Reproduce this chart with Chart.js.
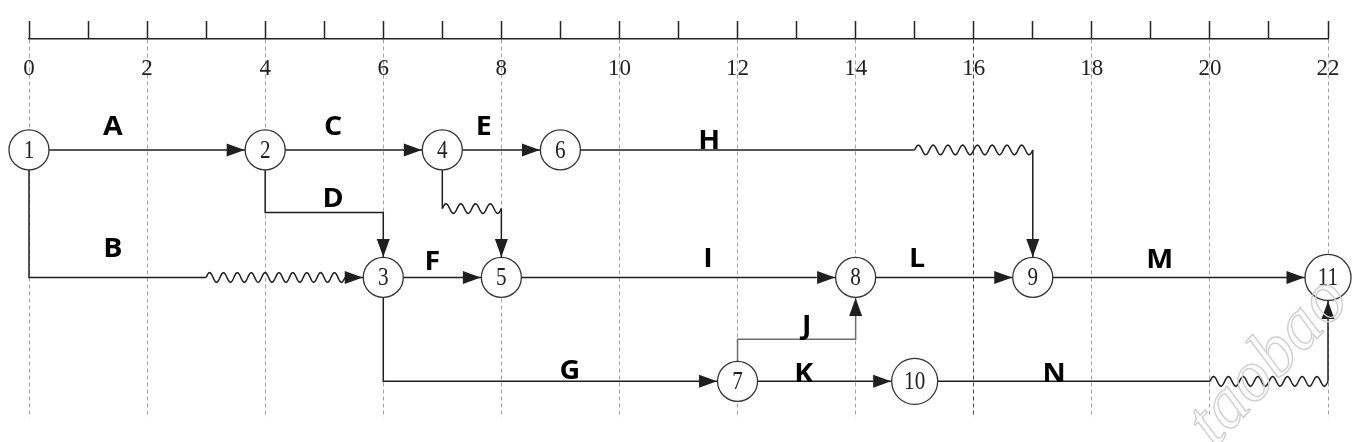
<!DOCTYPE html>
<html>
<head>
<meta charset="utf-8">
<script src="https://cdn.jsdelivr.net/npm/chart.js@4.4.1/dist/chart.umd.min.js"></script>
<style>
  html, body { margin: 0; padding: 0; background: #fff; }
</style>
</head>
<body>
<canvas id="network-chart" width="1362" height="442"></canvas>
<script>
// time ruler along the top
const timeMin = 0;
const timeMax = 22;
const tickLabels = ['0', '', '2', '', '4', '', '6', '', '8', '', '10', '', '12', '', '14', '', '16', '', '18', '', '20', '', '22'];

// events: number, time, lane (0 = top row, 1 = middle row, 1.815 = bottom row)
const nodeIds = [1, 2, 3, 4, 5, 6, 7, 8, 9, 10, 11];
const nodeTime = [0, 4, 6, 7, 8, 9, 12, 14, 17, 15, 22];
const nodeLane = [0, 0, 1, 0, 1, 0, 1.815, 1, 1, 1.815, 1];

// activities: route corners (time, lane), index of the wavy (free float) segment, label spot
const activityNames = ['A', 'B', 'C', 'D', 'E', 'F', 'G', 'H', 'I', 'J', 'K', 'L', 'M', 'N', ''];
const routeTime = [
  [0, 4], [0, 0, 3, 5.35, 6], [4, 7], [4, 4, 6, 6], [7, 9], [6, 8], [6, 6, 12], [9, 15, 17, 17],
  [8, 14], [12, 12, 14, 14], [12, 15], [14, 17], [17, 22], [15, 20, 22, 22], [7, 7, 8, 8],
];
const routeLane = [
  [0, 0], [0, 1, 1, 1, 1], [0, 0], [0, 0.49, 0.49, 1], [0, 0], [1, 1], [1, 1.815, 1.815], [0, 0, 0, 1],
  [1, 1], [1.815, 1.485, 1.485, 1], [1.815, 1.815], [1, 1], [1, 1], [1.815, 1.815, 1.815, 1], [0, 0.46, 0.46, 1],
];
const waveSegment = [-1, 2, -1, -1, -1, -1, -1, 1, -1, -1, -1, -1, -1, 1, 1];
const labelTime = [1.42, 1.42, 5.15, 5.15, 7.7, 6.83, 9.16, 11.52, 11.5, 13.17, 13.12, 15.04, 19.15, 17.36, 0];
const labelLane = [-0.185, 0.77, -0.185, 0.385, -0.185, 0.877, 1.73, -0.077, 0.854, 1.377, 1.754, 0.854, 0.862, 1.754, 0];

const INK = '#1f1f1f';
const nodeRadius = (i) => (String(nodeIds[i]).length > 1 ? 23 : 20);

const routeDatasets = activityNames.map((name, i) => {
  const pts = [];
  routeTime[i].forEach((t, k) => {
    pts.push({ x: t, y: routeLane[i][k] });
    if (k === waveSegment[i]) {
      // break the solid line where the wave is drawn
      pts.push({ x: (t + routeTime[i][k + 1]) / 2, y: null });
    }
  });
  return {
    label: name || 'dummy',
    data: pts,
    showLine: true,
    borderColor: name === 'J' ? '#6e6e6e' : INK,
    borderWidth: 1.5,
    pointRadius: 0,
    pointHoverRadius: 0,
    tension: 0,
    spanGaps: false,
    clip: false,
    order: 2,
  };
});

const nodeDataset = {
  label: 'events',
  data: nodeIds.map((id, i) => ({ x: nodeTime[i], y: nodeLane[i] })),
  pointRadius: nodeIds.map((id, i) => nodeRadius(i)),
  pointHoverRadius: nodeIds.map((id, i) => nodeRadius(i)),
  pointBackgroundColor: '#fff',
  pointBorderColor: '#333',
  pointBorderWidth: 1.3,
  clip: false,
  order: 0,
};

const findNode = (t, lane) => nodeIds.findIndex((id, i) => nodeTime[i] === t && nodeLane[i] === lane);

const networkMarks = {
  id: 'networkMarks',
  afterDatasetsDraw(chart) {
    const { ctx, scales: { x, y } } = chart;
    const px = (t) => x.getPixelForValue(t);
    const py = (l) => y.getPixelForValue(l);
    ctx.save();
    ctx.lineWidth = 1.5;

    // free float waves
    activityNames.forEach((name, i) => {
      const w = waveSegment[i];
      if (w < 0) return;
      const x0 = px(routeTime[i][w]);
      const x1 = px(routeTime[i][w + 1]);
      const yy = py(routeLane[i][w]);
      const n = Math.max(1, Math.round((x1 - x0) / 14));
      const period = (x1 - x0) / n;
      ctx.strokeStyle = INK;
      ctx.beginPath();
      ctx.moveTo(x0, yy);
      for (let xx = x0; xx <= x1; xx += 0.5) {
        ctx.lineTo(xx, yy - 4.8 * Math.sin((2 * Math.PI * (xx - x0)) / period));
      }
      ctx.lineTo(x1, yy);
      ctx.stroke();
    });

    // arrow heads touching the target circle
    activityNames.forEach((name, i) => {
      const n = routeTime[i].length;
      const tx = px(routeTime[i][n - 1]);
      const ty = py(routeLane[i][n - 1]);
      const sx = px(routeTime[i][n - 2]);
      const sy = py(routeLane[i][n - 2]);
      const len = Math.hypot(tx - sx, ty - sy);
      const dx = (tx - sx) / len;
      const dy = (ty - sy) / len;
      const target = findNode(routeTime[i][n - 1], routeLane[i][n - 1]);
      const r = target >= 0 ? nodeRadius(target) + 0.5 : 0;
      const tipX = tx - dx * r;
      const tipY = ty - dy * r;
      const bx = tipX - dx * 18;
      const by = tipY - dy * 18;
      ctx.fillStyle = INK;
      ctx.beginPath();
      ctx.moveTo(tipX, tipY);
      ctx.lineTo(bx - dy * 6.5, by + dx * 6.5);
      ctx.lineTo(bx + dy * 6.5, by - dx * 6.5);
      ctx.closePath();
      ctx.fill();
    });

    // event numbers
    ctx.fillStyle = '#222';
    ctx.textAlign = 'center';
    ctx.textBaseline = 'middle';
    ctx.font = '23px "Liberation Serif"';
    nodeIds.forEach((id, i) => {
      ctx.save();
      ctx.translate(px(nodeTime[i]), py(nodeLane[i]) + 1);
      ctx.scale(0.92, 1.12);
      ctx.fillText(String(id), 0, 0);
      ctx.restore();
    });

    // activity letters
    ctx.fillStyle = '#000';
    ctx.font = 'bold 26px "Open Sans"';
    activityNames.forEach((name, i) => {
      if (!name) return;
      ctx.save();
      ctx.translate(px(labelTime[i]), py(labelLane[i]));
      ctx.scale(1.1, 1);
      ctx.fillText(name, 0, 1);
      ctx.restore();
    });
    ctx.restore();
  },
  afterDraw(chart) {
    // faint watermark in the lower right corner
    const { ctx } = chart;
    ctx.save();
    ctx.translate(1215, 448);
    ctx.rotate(-47 * Math.PI / 180);
    ctx.font = 'italic 72px "Liberation Serif"';
    ctx.strokeStyle = '#cfcfcf';
    ctx.lineWidth = 1.4;
    ctx.strokeText('taobao', 0, 0);
    ctx.restore();
  },
};

new Chart(document.getElementById('network-chart'), {
  type: 'scatter',
  data: { datasets: [nodeDataset, ...routeDatasets] },
  options: {
    responsive: false,
    animation: false,
    devicePixelRatio: 1,
    layout: { padding: { top: 6, left: 29, right: 34, bottom: 17 } },
    plugins: { legend: { display: false }, tooltip: { enabled: false } },
    events: [],
    scales: {
      x: {
        type: 'linear',
        position: 'top',
        min: timeMin,
        max: timeMax,
        afterFit: (scale) => { scale.height = 33; },
        ticks: {
          stepSize: 1,
          autoSkip: false,
          maxRotation: 0,
          mirror: true,
          padding: 16,
          color: '#222',
          font: { family: 'Liberation Serif', size: 23 },
          callback: (v, i) => tickLabels[i],
        },
        grid: {
          drawTicks: true,
          tickLength: 18,
          tickWidth: 1.5,
          tickColor: '#222',
          tickBorderDash: [],
          lineWidth: 1,
          color: (c) => {
            if (!c.tick || c.tick.value % 2 !== 0) return 'rgba(0,0,0,0)';
            return c.tick.value === 16 ? '#444' : '#a3a3a3';
          },
        },
        border: { display: true, color: '#222', width: 1.5, dash: [4, 3] },
      },
      y: {
        type: 'linear',
        display: false,
        reverse: true,
        min: -0.87,
        max: 2.1,
      },
    },
  },
  plugins: [networkMarks],
});
</script>
</body>
</html>
